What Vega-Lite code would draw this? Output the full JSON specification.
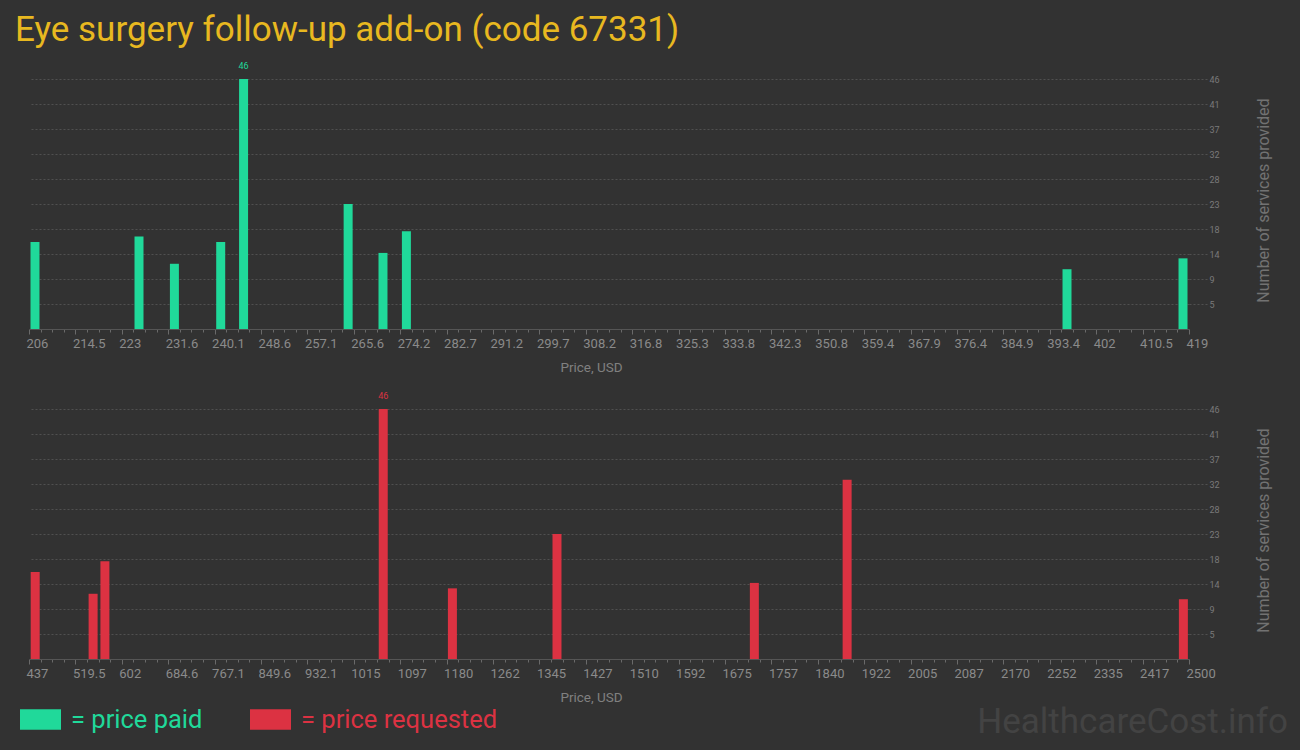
{
  "$schema": "https://vega.github.io/schema/vega-lite/v6.json",
  "background": "#323232",
  "padding": {"left": 15, "top": 13, "right": 12, "bottom": 15},
  "title": {"text": "Eye surgery follow-up add-on (code 67331)", "anchor": "start", "frame": "group", "font": "Roboto", "fontSize": 35, "fontWeight": "normal", "color": "#e8b820", "dx": -14, "offset": 14},
  "datasets": {
    "bars": [
      {"series": "price paid", "price": 207.1, "count": 16},
      {"series": "price paid", "price": 226.2, "count": 17},
      {"series": "price paid", "price": 232.7, "count": 12},
      {"series": "price paid", "price": 241.2, "count": 16},
      {"series": "price paid", "price": 245.4, "count": 46},
      {"series": "price paid", "price": 264.6, "count": 23},
      {"series": "price paid", "price": 271.0, "count": 14},
      {"series": "price paid", "price": 275.3, "count": 18},
      {"series": "price paid", "price": 396.6, "count": 11},
      {"series": "price paid", "price": 417.9, "count": 13},
      {"series": "price requested", "price": 448, "count": 16},
      {"series": "price requested", "price": 551, "count": 12},
      {"series": "price requested", "price": 572, "count": 18},
      {"series": "price requested", "price": 1067, "count": 46},
      {"series": "price requested", "price": 1190, "count": 13},
      {"series": "price requested", "price": 1376, "count": 23},
      {"series": "price requested", "price": 1727, "count": 14},
      {"series": "price requested", "price": 1892, "count": 33},
      {"series": "price requested", "price": 2490, "count": 11}
    ]
  },
  "bounds": "flush",
  "spacing": 80,
  "vconcat": [
    {
      "width": 1160,
      "height": 250,
      "data": {"name": "bars"},
      "transform": [{"filter": "datum.series == 'price paid'"}],
      "layer": [
        {
          "mark": {"type": "bar", "size": 9},
          "encoding": {
            "x": {
              "field": "price", "type": "quantitative",
              "scale": {"domain": [206, 419], "nice": false, "zero": false, "padding": 0},
              "axis": {
                "title": "Price, USD",
                "tickCount": 500,
                "values": [206, 208.13, 210.26, 212.39, 214.52, 216.65, 218.78, 220.91, 223.04, 225.17, 227.3, 229.43, 231.56, 233.69, 235.82, 237.95, 240.08, 242.21, 244.34, 246.47, 248.6, 250.73, 252.86, 254.99, 257.12, 259.25, 261.38, 263.51, 265.64, 267.77, 269.9, 272.03, 274.16, 276.29, 278.42, 280.55, 282.68, 284.81, 286.94, 289.07, 291.2, 293.33, 295.46, 297.59, 299.72, 301.85, 303.98, 306.11, 308.24, 310.37, 312.5, 314.63, 316.76, 318.89, 321.02, 323.15, 325.28, 327.41, 329.54, 331.67, 333.8, 335.93, 338.06, 340.19, 342.32, 344.45, 346.58, 348.71, 350.84, 352.97, 355.1, 357.23, 359.36, 361.49, 363.62, 365.75, 367.88, 370.01, 372.14, 374.27, 376.4, 378.53, 380.66, 382.79, 384.92, 387.05, 389.18, 391.31, 393.44, 395.57, 397.7, 399.83, 401.96, 404.09, 406.22, 408.35, 410.48, 412.61, 414.74, 416.87, 419],
                "labelExpr": "round(datum.index*100) % 4 == 0 ? format(datum.value, '.4~r') : ''",
                "tickSize": {"condition": {"test": "round(datum.index*100) % 4 == 0", "value": 5}, "value": 3}
              }
            },
            "y": {
              "field": "count", "type": "quantitative",
              "scale": {"domain": [0, 46], "nice": false},
              "axis": {"orient": "right", "title": "Number of services provided", "tickCount": 100, "values": [4.6, 9.2, 13.8, 18.4, 23, 27.6, 32.2, 36.8, 41.4, 46], "format": ".0f"}
            },
            "color": {
              "field": "series", "type": "nominal",
              "scale": {"domain": ["price paid", "price requested"], "range": ["#20d99a", "#dc3242"]},
              "legend": {
                "title": null, "orient": "none", "legendX": -9, "legendY": 620, "direction": "horizontal",
                "symbolType": "M-1,-0.5H1V0.5H-1Z", "symbolSize": 1681, "symbolStrokeWidth": 0, "symbolOpacity": 1,
                "labelFont": "Roboto", "labelFontSize": 25.5, "labelOffset": 10, "labelLimit": 400, "columnPadding": 47,
                "labelExpr": "'= ' + datum.label",
                "encode": {"labels": {"update": {"fill": {"scale": "color", "field": "value"}}}}
              }
            }
          }
        },
        {
          "transform": [
            {"joinaggregate": [{"op": "max", "field": "count", "as": "maxc"}]},
            {"filter": "datum.count == datum.maxc"}
          ],
          "mark": {"type": "text", "dy": -13, "fontSize": 9, "font": "Roboto", "color": "#20d99a"},
          "encoding": {
            "x": {"field": "price", "type": "quantitative"},
            "y": {"field": "count", "type": "quantitative"},
            "text": {"field": "count", "type": "quantitative"}
          }
        }
      ]
    },
    {
      "width": 1160,
      "height": 250,
      "data": {"name": "bars"},
      "transform": [{"filter": "datum.series == 'price requested'"}],
      "title": {"text": "HealthcareCost.info", "orient": "bottom", "anchor": "end", "frame": "group", "font": "Roboto", "fontSize": 35, "fontWeight": "normal", "color": "#434343", "dx": 99, "offset": 1},
      "layer": [
        {
          "mark": {"type": "bar", "size": 9},
          "encoding": {
            "x": {
              "field": "price", "type": "quantitative",
              "scale": {"domain": [437, 2500], "nice": false, "zero": false, "padding": 0},
              "axis": {
                "title": "Price, USD",
                "tickCount": 500,
                "values": [437, 457.63, 478.26, 498.89, 519.52, 540.15, 560.78, 581.41, 602.04, 622.67, 643.3, 663.93, 684.56, 705.19, 725.82, 746.45, 767.08, 787.71, 808.34, 828.97, 849.6, 870.23, 890.86, 911.49, 932.12, 952.75, 973.38, 994.01, 1014.64, 1035.27, 1055.9, 1076.53, 1097.16, 1117.79, 1138.42, 1159.05, 1179.68, 1200.31, 1220.94, 1241.57, 1262.2, 1282.83, 1303.46, 1324.09, 1344.72, 1365.35, 1385.98, 1406.61, 1427.24, 1447.87, 1468.5, 1489.13, 1509.76, 1530.39, 1551.02, 1571.65, 1592.28, 1612.91, 1633.54, 1654.17, 1674.8, 1695.43, 1716.06, 1736.69, 1757.32, 1777.95, 1798.58, 1819.21, 1839.84, 1860.47, 1881.1, 1901.73, 1922.36, 1942.99, 1963.62, 1984.25, 2004.88, 2025.51, 2046.14, 2066.77, 2087.4, 2108.03, 2128.66, 2149.29, 2169.92, 2190.55, 2211.18, 2231.81, 2252.44, 2273.07, 2293.7, 2314.33, 2334.96, 2355.59, 2376.22, 2396.85, 2417.48, 2438.11, 2458.74, 2479.37, 2500],
                "labelExpr": "round(datum.index*100) % 4 == 0 ? format(datum.value, '.4~r') : ''",
                "tickSize": {"condition": {"test": "round(datum.index*100) % 4 == 0", "value": 5}, "value": 3}
              }
            },
            "y": {
              "field": "count", "type": "quantitative",
              "scale": {"domain": [0, 46], "nice": false},
              "axis": {"orient": "right", "title": "Number of services provided", "tickCount": 100, "values": [4.6, 9.2, 13.8, 18.4, 23, 27.6, 32.2, 36.8, 41.4, 46], "format": ".0f"}
            },
            "color": {
              "field": "series", "type": "nominal",
              "scale": {"domain": ["price paid", "price requested"], "range": ["#20d99a", "#dc3242"]},
              "legend": {
                "title": null, "orient": "none", "legendX": -9, "legendY": 620, "direction": "horizontal",
                "symbolType": "M-1,-0.5H1V0.5H-1Z", "symbolSize": 1681, "symbolStrokeWidth": 0, "symbolOpacity": 1,
                "labelFont": "Roboto", "labelFontSize": 25.5, "labelOffset": 10, "labelLimit": 400, "columnPadding": 47,
                "labelExpr": "'= ' + datum.label",
                "encode": {"labels": {"update": {"fill": {"scale": "color", "field": "value"}}}}
              }
            }
          }
        },
        {
          "transform": [
            {"joinaggregate": [{"op": "max", "field": "count", "as": "maxc"}]},
            {"filter": "datum.count == datum.maxc"}
          ],
          "mark": {"type": "text", "dy": -13, "fontSize": 9, "font": "Roboto", "color": "#dc3242"},
          "encoding": {
            "x": {"field": "price", "type": "quantitative"},
            "y": {"field": "count", "type": "quantitative"},
            "text": {"field": "count", "type": "quantitative"}
          }
        }
      ]
    }
  ],
  "config": {
    "view": {"stroke": null},
    "font": "Roboto",
    "axis": {"labelFont": "Roboto", "titleFont": "Roboto", "titleFontWeight": "normal"},
    "axisX": {"labelColor": "#8a8a8a", "labelFontSize": 13, "domainColor": "#555555", "tickColor": "#6a6a6a", "grid": false, "labelAlign": "left", "labelOffset": -3, "labelPadding": 3, "labelFlush": false, "labelOverlap": false, "titleX": 562, "titleY": 38, "titleBaseline": "middle", "titleAlign": "center", "titleFontSize": 13.5, "titleColor": "#808080"},
    "axisY": {"labelColor": "#7a7a7a", "labelFontSize": 9, "grid": true, "gridColor": "#505050", "gridDash": [2, 2], "tickColor": "#505050", "tickDash": [2, 2], "tickSize": 18, "domain": false, "labelPadding": 2, "titleAngle": 270, "titleX": 74, "titleY": 121, "titleAlign": "center", "titleBaseline": "middle", "titleFontSize": 16, "titleColor": "#727272"}
  }
}
